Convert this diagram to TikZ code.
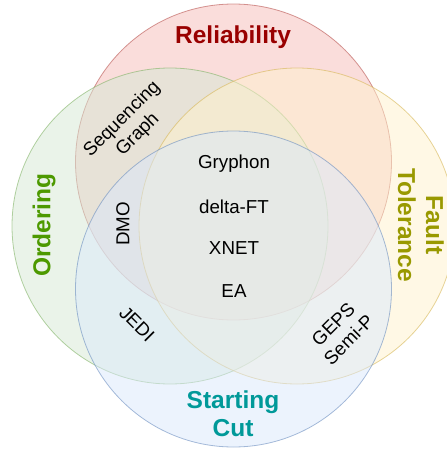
\documentclass[tikz,border=0pt]{standalone}
\usepackage{fontspec}
\setmainfont{Liberation Sans}
\usepackage{tikz}
\usetikzlibrary{calc}

\definecolor{relfill}{HTML}{F8CECC}
\definecolor{relline}{HTML}{B85450}
\definecolor{ordfill}{HTML}{D5E8D4}
\definecolor{ordline}{HTML}{82B366}
\definecolor{ftfill}{HTML}{FFF2CC}
\definecolor{ftline}{HTML}{D6B656}
\definecolor{scfill}{HTML}{DAE8FC}
\definecolor{scline}{HTML}{6C8EBF}
\definecolor{reltext}{HTML}{990000}
\definecolor{ordtext}{HTML}{4D9900}
\definecolor{fttext}{HTML}{999900}
\definecolor{sctext}{HTML}{009999}

\tikzset{
    setcircle/.style={circle, minimum size=316pt, inner sep=0pt, line width=0.8pt},
    setname/.style={font=\fontsize{24.5}{28}\selectfont\bfseries, align=center},
    item/.style={font=\fontsize{18.75}{22}\selectfont, align=center}
}

\begin{document}
\begin{tikzpicture}[x=1pt, y=-1pt]
        \useasboundingbox (0,0) rectangle (447,450);
        \clip (0,0) rectangle (447,450);
        % the four sets
        \node[setcircle, draw=relline, fill=relfill, draw opacity=0.6, fill opacity=0.7] (rel) at (233.5,162) {};
        \node[setcircle, draw=ordline, fill=ordfill, draw opacity=0.6, fill opacity=0.5] (ord) at (170,226) {};
        \node[setcircle, draw=ftline, fill=ftfill, draw opacity=0.6, fill opacity=0.5] (ft) at (297,226) {};
        \node[setcircle, draw=scline, fill=scfill, draw opacity=0.6, fill opacity=0.5] (sc) at (233.5,289) {};
        % set names
        \node[setname, text=reltext] (relname) at (233,37) {Reliability};
        \node[setname, text=ordtext, rotate=90] (ordname) at (44,225) {Ordering};
        \node[setname, text=fttext, rotate=-90] (ftname) at (421,225) {Fault\\Tolerance};
        \node[setname, text=sctext] (scname) at (233,414) {Starting\\Cut};
        % systems
        \node[item] (gryphon) at (234,164) {Gryphon};
        \node[item] (deltaft) at (234,207) {delta-FT};
        \node[item] (xnet) at (234,248) {XNET};
        \node[item] (ea) at (234,291) {EA};
        \node[item, rotate=45] (seqgraph) at (130,127) {Sequencing\\Graph};
        \node[item, rotate=90] (dmo) at (123,224) {DMO};
        \node[item, rotate=-45] (jedi) at (137,324) {JEDI};
        \node[item, rotate=45] (geps) at (341,332) {GEPS\\Semi-P};
\end{tikzpicture}
\end{document}
